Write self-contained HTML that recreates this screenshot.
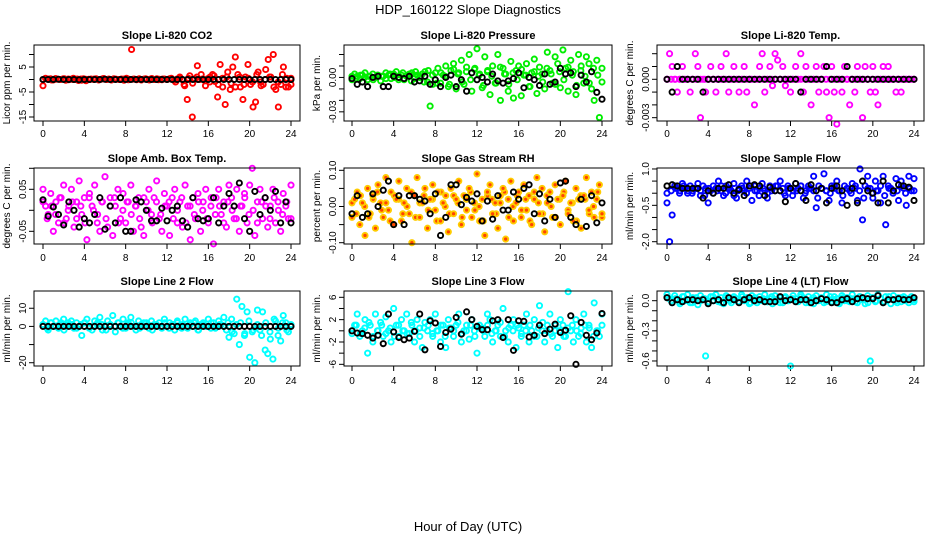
<!DOCTYPE html>
<html><head><meta charset="utf-8"><style>
html,body{margin:0;padding:0;background:#fff;}
svg{display:block;font-family:"Liberation Sans",sans-serif;}
</style></head><body>
<svg id="chart" width="936" height="540" xmlns="http://www.w3.org/2000/svg">
<text x="468" y="14" text-anchor="middle" font-size="13">HDP_160122  Slope Diagnostics</text>
<text x="468" y="531" text-anchor="middle" font-size="13">Hour of Day (UTC)</text>
</svg>
<script>
const xTicks=[0,4,8,12,16,20,24];
const co2Col=[-2.5,0.5,0.2,0.3,-0.2,0.4,0.1,0,0.3,-0.3,0.2,0.1,0.5,0,-0.4,0.2,0.3,-0.5,0.1,0.2,0,0.3,-0.2,0.1,0.4,0,0.2,-0.1,0.3,0.1,0,0.2,-0.3,0.5,0.1,12,0.2,-0.1,0.3,0,0.2,0.1,-0.2,0.4,0,0.3,0.1,-0.1,0.2,0,0.3,0.1,-0.2,0.2,0.4,0,-2.5,-8,1.5,-15,0.3,5.5,0,0.2,-0.5,0.3,1,2,-0.8,-7,6,-3,-10,3,-4,5,9,2,-3,-8,1,6,-2,-11,-9,3,-1,-2,4,8,1,10,-4,-11,-2,5,-3,-3,0.5];
const co2Band=[0,0.2,-0.2,0.1,0,0.3,-0.1,0,0.2,-0.3,0.1,0,0.2,-0.1,0.3,0,-0.2,0.1,0,0.2,-0.1,0.1,0,-0.2,0.3,0.1,0,-0.1,0.2,0,0.5,-1,1,-2,0.5,-1.5,1,2,-2.5,-1,1.5,-2,0.5,1,-1.5,-3,1,-2,0.5,-1,2,-2.5,0,1,-3,-1,2,0.5,-2];
const co2Blk=[0,0,0,0.1,0,0,0,-0.1,0,0,0,0,0.1,0,0,0,0,0,0,0,0,0,0,0,0,0,0,0,0,0,0,0,0,0,0,0,0,0,0,0,0,0,0,0,0,0,0,0,0];
const presCol=[-0.002,0.003,0.001,-0.001,0.002,0.004,-0.002,0.001,0.003,0,0.002,-0.003,0.001,0.004,0.002,-0.001,0.003,0.005,0,0.002,-0.002,0.001,0.003,0.004,-0.001,0.002,0,0.003,0.005,-0.004,-0.025,-0.006,0.004,0.008,-0.005,0.002,0.01,-0.008,0.006,0.012,-0.01,0.004,0.015,-0.006,0.009,0.02,-0.012,0.007,0.025,0.003,-0.009,0.018,0.005,-0.015,0.01,-0.005,0.02,-0.02,0.008,0.003,-0.012,0.014,-0.018,0.006,0.01,-0.016,0.002,0.012,-0.008,0.004,0.016,-0.014,0.009,0.003,-0.01,0.022,0.006,-0.005,0.018,0.012,-0.009,0.024,0.008,-0.012,0.015,0.005,-0.015,0.02,0.01,-0.005,0.018,0.012,-0.01,-0.02,0.015,-0.035,0.008];
const presBand=[0.001,-0.001,0.002,0,0.001,-0.002,0.002,0.001,-0.001,0.003,0,-0.002,0.004,0.002,-0.003,0.005,0.001,-0.004,0.006,0.002,-0.005,0.004,0.001,-0.006,0.007,0.003,-0.004,0.005,-0.002,0.008,0.002,-0.007,0.006,0.001,-0.005,0.009,0.003,-0.006,0.004,-0.002,0.007,0.002,-0.008,0.005,0.001,-0.004,0.008,0.003,-0.006,0.005,-0.002,0.009,0.002,-0.007,0.006,0.001,-0.005,0.008,0.002,-0.004];
const presBlk=[-0.001,-0.006,-0.004,-0.008,0,0.001,-0.008,-0.008,0.001,0,-0.001,0.001,-0.004,-0.003,0.001,-0.006,-0.002,-0.008,0,0.002,-0.008,-0.002,-0.012,0.004,-0.002,0,-0.004,0.003,-0.003,-0.005,-0.003,-0.001,0.004,-0.009,0,-0.002,-0.007,0.003,-0.006,-0.004,0.008,0.003,0.004,-0.008,0.002,-0.004,0.005,-0.013,-0.019];
const tempCol=[0,0.002,0.001,0,-0.001,0,0.001,0,0,-0.001,0,0.002,0.001,-0.003,0,-0.001,0,0.001,0,-0.001,0,0.001,0,0.002,-0.001,0,0.001,0,-0.001,0,0.001,-0.001,0,0,-0.002,0,0.001,0.002,-0.001,0,0.001,-0.0005,0.002,0.0015,0,0.001,-0.0005,0,-0.001,0,0.001,0,0.002,-0.001,0.001,0,-0.002,0,0.001,-0.001,0,0.001,-0.001,-0.003,0.001,-0.001,-0.0035,0,-0.001,0.001,0,-0.002,0,-0.001,0.001,0,-0.003,0.001,0,-0.001,0.001,-0.001,-0.002,0,0.001,0,0.001,0,0,-0.001,0,-0.001,0,0,0,0,0];
const tempBand=[0,0,0,0,0,0,0,0,0,0,0,0,0,0,0,0,0,0,0,0,0,0,0,0,0,0,0,0,0,0,0,0,0,0,0,0,0,0,0,0,0,0,0,0,0,0,0,0,0,0,0,0,0,0,0,0,0,0,0,0];
const tempBlk=[0,-0.001,0.001,0,0,0,0,-0.001,0,0,0,0,0,0,0,0,0,0,0,0,0,0,0,0,0,0,-0.001,0,0,0,0,0.001,0,0,0,0.001,0,0,0,0,0,0,0,0,0,0,0,0,0];
const ambCol=[0.05,0.01,-0.01,0.04,-0.05,0.02,-0.03,0.03,0.06,-0.02,0.01,0.05,-0.04,0.02,0.07,-0.01,0.03,-0.07,0.04,0.01,0.06,-0.03,-0.05,0.02,0.08,-0.04,0.03,-0.06,0.01,0.05,-0.02,0.04,-0.03,0.02,0.06,-0.05,0.01,0.03,-0.04,-0.06,0.02,0.05,-0.01,0.03,0.07,-0.02,-0.05,0.04,0.01,-0.06,0.03,0.05,-0.03,0.02,-0.04,0.06,0.01,-0.07,0.03,-0.02,0.04,-0.05,0.02,0.05,-0.03,0.01,-0.08,0.03,0.05,-0.01,0.02,-0.04,0.06,0.03,-0.02,0.05,-0.05,0.01,0.04,-0.03,0.06,0.1,-0.06,0.02,0.05,-0.02,0.03,-0.04,0.01,0.05,-0.03,0.02,-0.05,0.04,0.01,-0.02,0.06];
const ambBand=[0.02,-0.02,0.01,-0.01,0.03,-0.03,0,0.02,-0.02,0.01,-0.03,0.03,0,-0.01,0.02,-0.02,0.01,0.03,-0.03,0,0.02,-0.01,0.01,-0.02,0.03,0,-0.03,0.02,-0.01,0.01,0.02,-0.02,0,0.03,-0.03,0.01,-0.01,0.02,0,-0.02,0.03,-0.01,0.01,-0.03,0.02,0,-0.02,0.01,0.03,-0.01,0,-0.03,0.02,0.01,-0.02,0.03,0,-0.01,0.02,-0.02];
const ambBlk=[0.025,-0.014,0.008,-0.01,-0.035,0.02,0,-0.04,-0.02,-0.03,-0.01,0.03,-0.045,0.01,-0.03,0.03,-0.05,-0.05,0.025,0.02,0,-0.025,-0.025,0.005,-0.025,0,0.01,-0.025,-0.04,0.03,-0.02,-0.025,-0.02,0.03,-0.03,0.01,0.04,0.01,0.065,-0.02,-0.05,0.045,-0.01,0.03,0,0.045,-0.03,0.02,-0.03];
const rhCol=[-0.03,0.02,0.04,-0.05,0.01,-0.08,0.05,-0.02,0.03,-0.06,0.06,0.01,-0.03,0.08,-0.01,0.04,-0.05,0.02,0.07,-0.04,0.01,0.05,-0.02,-0.1,0.03,0.08,-0.03,0.01,0.05,-0.06,0.02,0.06,-0.01,0.04,-0.04,0.01,0.03,-0.07,0.05,-0.02,0.02,0.07,-0.05,0.03,-0.01,0.05,-0.03,0.01,0.09,-0.04,0.02,-0.08,0.04,0.06,-0.02,0.01,-0.06,0.03,0.05,-0.09,0.02,0.07,-0.04,0.01,0.04,-0.03,0.06,-0.01,0.03,-0.05,0.02,0.08,-0.02,0.05,-0.07,0.01,0.04,-0.03,0.06,0.02,-0.05,0.03,0.07,-0.02,0.01,-0.04,0.05,0.02,-0.06,0.03,0.08,-0.01,0.04,-0.03,0.02,0.06,-0.02];
const rhBand=[0.01,-0.02,0.03,0,-0.03,0.02,0.04,-0.01,0.01,-0.04,0.03,0.02,-0.02,0,0.04,-0.03,0.01,0.03,-0.01,0.02,-0.04,0.04,0,-0.02,0.03,0.01,-0.03,0.02,0.04,-0.01,0,-0.04,0.03,0.02,-0.02,0.01,0.04,-0.03,0,0.03,-0.01,0.02,-0.04,0.04,0.01,-0.02,0.03,0,-0.03,0.02,0.04,-0.01,0.01,-0.04,0.03,0.02,-0.02,0,0.04,-0.03];
const rhBlk=[-0.02,0.03,-0.03,-0.02,0.035,0,0.045,0.07,-0.05,0.03,-0.05,0.03,0.03,0.02,0.015,-0.02,0.035,-0.08,-0.03,0.06,0.06,0.005,0.025,0.015,0.035,-0.04,0.015,-0.035,0.03,-0.01,-0.01,0.04,0.02,0.05,0.06,-0.02,0.035,-0.04,0.02,-0.03,0.065,0.07,-0.03,-0.05,0.02,-0.055,0.03,-0.045,0.01];
const flowCol=[-0.4,-2.0,-0.9,0.3,0.2,0.1,0.4,0.2,0,0.3,0.1,0.2,0.4,-0.1,0.3,0.2,-0.4,0.1,0.3,0.2,0.5,0.1,-0.1,0.3,0.2,0.1,0.4,-0.2,0.2,0.3,0.1,0.5,0.2,-0.3,0.3,0.1,0.2,0.4,0.1,-0.2,0.3,0.2,0.1,0.3,0.5,0.2,-0.1,0.3,0.2,0.1,0.4,0.2,0.3,-0.2,0.1,0.3,0.2,0.7,-0.6,0.3,0.2,0.8,0.1,-0.3,0.3,0.2,0.5,0.1,-0.4,0.3,0.2,0.1,0.4,0.2,-0.3,1.0,-1.1,0.3,0.7,0.2,-0.2,0.5,0.1,-0.4,0.7,-1.3,0.3,0.2,0.1,0.6,-0.3,0.5,0.2,-0.5,0.7,0.1,0.6];
const flowBand=[0,0.1,0.2,0,0.3,0.1,0,0.2,0.1,-0.1,0.2,0,0.1,0.3,0,0.2,-0.1,0.1,0.2,0,0.3,0.1,-0.1,0.2,0,0.1,0.3,0.1,0,0.2,-0.1,0.1,0.3,0,0.2,0.1,-0.2,0.2,0.1,0,0.3,0.1,-0.1,0.2,0,0.3,0.1,-0.2,0.2,0,0.1,0.3,-0.1,0.2,0,0.1,0.3,0,0.2,0.1];
const flowBlk=[0.3,0.35,0.3,0.2,0.2,0.2,0.2,-0.2,0.1,0,0.2,0.2,0.35,0,0.15,-0.1,0.3,0.35,0.3,-0.1,0.25,0.1,0.1,-0.35,0.2,0.4,0.1,-0.3,0.35,0.1,0.2,-0.4,0.2,0.3,0.1,-0.5,0.2,-0.4,0.5,0.1,0,-0.4,0.5,-0.4,0.1,0.35,0.3,0.25,-0.3];
const l2Col=[1,3,-2,2,0,3,-1,2,4,0,1,3,-1,2,0,-5,2,4,0,-2,3,1,5,-2,0,3,1,6,-3,2,0,4,-1,2,5,0,-2,3,1,0,2,-1,3,1,0,2,-1,4,0,2,1,-2,3,0,1,4,-1,2,0,3,-2,1,2,0,4,-1,2,0,3,1,5,-2,-6,4,-4,15,-10,11,-5,8,-17,-3,-20,9,-2,8,-13,-15,-7,-18,3,-5,-8,6,2,-3,0];
const l2Band=[1,-1,2,0,1,-2,2,1,-1,1,2,-1,0,2,1,-2,1,0,2,-1,1,2,0,-1,2,1,-2,1,0,2,-1,1,2,-1,0,1,2,-2,1,0,2,-1,1,0,2,-3,1,2,-4,3,-2,1,-5,2,-3,4,-1,2,-2,1];
const l2Blk=[0,0,0,0,0,0,0,0,0,0,0,0,0,0,0,0,0,0,0,0,0,0,0,0,0,0,0,0,0,0,0,0,0,0,0,0,0,0,0,0,0,0,0,0,0,0,0,0,0];
const l3Col=[-0.5,1,3,-1,0,2,-4,1,-2,3,0,1.5,-1,2.5,0,-2,4,1,-1,2,0,3,-0.5,1,-2,2,0.5,-3,1.5,0,2,-1,3,0,-2,1,-3,2,0.5,-1,1,3,-2,0,1,-1.5,2,0,-4,1,0.5,-1,3,2,-2,0,1,-1,4,0,-2,1,2,-3,0.5,-1,1,3,-2,0,2,-1,4.5,0,-2,1,3,-1,0,-3,2,1,-1,7,0,-2,2,-1,0.5,3,-2,1,-3,5,0,-1,3];
const l3Band=[0,1,-0.5,0.5,1.5,-1,0,1,-0.5,0.5,-1,1,0,-0.5,1.5,0,-1,0.5,1,-0.5,0,1,-1,0.5,0,1.5,-0.5,0,1,-1,0.5,0,1,-0.5,0,1.5,-1,0.5,0,1,-0.5,0,1,-1,0.5,1.5,0,-0.5,1,0,-1,0.5,1,0,-0.5,1,0.5,-1,0,1];
const l3Blk=[0,-0.4,-0.5,-0.8,-1.3,-0.8,-2.3,3,-0.2,-1.2,-1.6,-1.3,-0.1,3,-3.4,1.8,1.4,-2.8,-0.3,0.3,2.4,-0.6,3.4,2,0.8,0.2,0.2,1.8,2,-1.2,2,-3.5,1.8,1.7,-1.1,-0.8,1,-0.5,0.3,1.2,-0.3,0.1,2.7,-6,1.5,-0.8,-1.6,-0.4,3.1];
const l4Col=[0.06,0.02,-0.02,0.05,0.01,-0.03,0.04,0,0.06,-0.02,0.03,0.01,-0.04,0.05,0.02,-0.55,-0.02,0.04,0,0.06,-0.01,0.03,-0.03,0.05,0.01,-0.02,0.04,0.02,-0.01,0.06,0,0.03,-0.03,0.05,0.01,-0.02,0.04,0,0.06,-0.01,0.02,-0.03,0.05,0.01,0.03,-0.02,0.04,0,-0.65,0.05,0.02,-0.01,0.06,0.03,-0.02,0.04,0.01,-0.03,0.05,0,0.03,-0.02,0.06,0.01,-0.01,0.04,0.02,-0.03,0.05,0,0.03,-0.01,0.06,0.02,-0.02,0.04,0.01,-0.03,0.05,-0.6,0.03,-0.01,0.06,0.02,-0.02,0.04,0.01,-0.03,0.05,0,0.03,-0.01,0.04,0.02,-0.02,0.04,0.01];
const l4Band=[0.03,0,0.02,-0.01,0.04,0.01,-0.02,0.03,0,0.02,-0.01,0.04,0.01,-0.02,0.03,0,0.02,-0.01,0.04,0.01,-0.02,0.03,0,0.02,-0.01,0.04,0.01,-0.02,0.03,0,0.02,-0.01,0.04,0.01,-0.02,0.03,0,0.02,-0.01,0.04,0.01,-0.02,0.03,0,0.02,-0.01,0.04,0.01,-0.02,0.03,0,0.02,-0.01,0.04,0.01,-0.02,0.03,0,0.02,-0.01];
const l4Blk=[0.03,-0.02,0.01,-0.01,0.01,0.01,0,0.01,-0.03,0,0.01,-0.02,0.03,0.01,-0.02,0.01,0.03,0,0.01,-0.01,-0.01,-0.01,0.04,0,0.01,-0.01,0.01,0.01,-0.02,0,0.02,0.01,-0.02,-0.02,0.01,0.02,-0.01,0.02,0.03,0.02,0.02,0.05,-0.02,0.01,0.01,0.02,0.01,0.01,0.03];

const svgNS="http://www.w3.org/2000/svg";
const svg=document.getElementById('chart');
const cols=[[34,300,43,291],[344,612,352,602],[657,924,667,914]];
const rows=[[45,121,137],[168,244,261],[291,366,384]];
const panels=[
 {name:'co2',title:'Slope Li-820 CO2',ylab:'Licor ppm per min.',col:co2Col,band:co2Band,blk:co2Blk,color:'#ff0000',r:0,c:0,ymax:13.8,ymin:-16.6,ticks:[10,5,0,-5,-10,-15],labels:[5,-5,-15]},
 {name:'pressure',title:'Slope Li-820 Pressure',ylab:'kPa per min.',col:presCol,band:presBand,blk:presBlk,color:'#00ee00',r:0,c:1,ymax:0.0283,ymin:-0.038,ticks:[0.02,0.01,0,-0.01,-0.02,-0.03],labels:[0,-0.03],fmt:2},
 {name:'temp',title:'Slope Li-820 Temp.',ylab:'degrees C per min.',col:tempCol,band:tempBand,blk:tempBlk,color:'#ff00ff',r:0,c:2,ymax:0.00268,ymin:-0.00326,ticks:[0.002,0.001,0,-0.001,-0.002,-0.003],labels:[0,-0.003],fmt:3},
 {name:'amb-temp',title:'Slope Amb. Box Temp.',ylab:'degrees C per min.',col:ambCol,band:ambBand,blk:ambBlk,color:'#ff00ff',r:1,c:0,ymax:0.1007,ymin:-0.0802,ticks:[0.1,0.05,0,-0.05],labels:[0.05,-0.05],fmt:2},
 {name:'rh',title:'Slope Gas Stream RH',ylab:'percent per min.',col:rhCol,band:rhBand,blk:rhBlk,color:'#ffcc00',r:1,c:1,ymax:0.1064,ymin:-0.1036,ticks:[0.1,0.05,0,-0.05,-0.1],labels:[0.1,0,-0.1],fmt:2},
 {name:'sample-flow',title:'Slope Sample Flow',ylab:'ml/min per min.',col:flowCol,band:flowBand,blk:flowBlk,color:'#0000ff',r:1,c:2,ymax:1.04,ymin:-2.095,ticks:[1,0.5,0,-0.5,-1,-1.5,-2],labels:[1,-0.5,-2],fmt:1},
 {name:'line2-flow',title:'Slope Line 2 Flow',ylab:'ml/min per min.',col:l2Col,band:l2Band,blk:l2Blk,color:'#00ffff',r:2,c:0,ymax:19.5,ymin:-21.8,ticks:[10,0,-10,-20],labels:[10,0,-20]},
 {name:'line3-flow',title:'Slope Line 3 Flow',ylab:'ml/min per min.',col:l3Col,band:l3Band,blk:l3Blk,color:'#00ffff',r:2,c:1,ymax:7.13,ymin:-6.3,ticks:[6,4,2,0,-2,-4,-6],labels:[6,2,-2,-6]},
 {name:'line4-flow',title:'Slope Line 4 (LT) Flow',ylab:'ml/min per min.',col:l4Col,band:l4Band,blk:l4Blk,color:'#00ffff',r:2,c:2,ymax:0.0965,ymin:-0.65,ticks:[0,-0.1,-0.2,-0.3,-0.4,-0.5,-0.6],labels:[0,-0.3,-0.6],fmt:1}
];
function mk(tag,attrs,parent){const e=document.createElementNS(svgNS,tag);for(const k in attrs)e.setAttribute(k,attrs[k]);(parent||svg).appendChild(e);return e;}
panels.forEach(p=>{
 const [L,R,X0,X24]=cols[p.c];const [T,B,LY]=rows[p.r];
 const g=mk('g',{});
 
 
 const xs=h=>X0+(X24-X0)*h/24;
 const ys=v=>T+(p.ymax-v)/(p.ymax-p.ymin)*(B-T);
 const t=mk('text',{x:(L+R)/2,y:T-6,'text-anchor':'middle','font-size':11,'font-weight':'bold'},g);t.textContent=p.title;
 
 
 const yl=mk('text',{x:0,y:0,'text-anchor':'middle','font-size':10,transform:`translate(${L-24},${(T+B)/2}) rotate(-90)`},g);yl.textContent=p.ylab;
 
 
 p.ticks.forEach(v=>{mk('line',{x1:L-5,x2:L,y1:ys(v),y2:ys(v),stroke:'#000'},g);});
 p.labels.forEach(v=>{const y=ys(v);const lb=mk('text',{x:0,y:0,'text-anchor':'middle','font-size':10,transform:`translate(${L-8},${y}) rotate(-90)`},g);lb.textContent=p.fmt?v.toFixed(p.fmt):String(v);
  
  });
 mk('line',{x1:L,x2:L,y1:ys(p.ticks[0]),y2:ys(p.ticks[p.ticks.length-1]),stroke:'#000'},g);
 mk('line',{x1:xs(0),x2:xs(24),y1:B,y2:B,stroke:'#000'},g);
 xTicks.forEach(h=>{mk('line',{x1:xs(h),x2:xs(h),y1:B,y2:B+5,stroke:'#000'},g);const lb=mk('text',{x:xs(h),y:LY,'text-anchor':'middle','font-size':10},g);lb.textContent=h;
  
  });
 const fill=p.name==='rh'?'#ff4400':'none';
 [p.band,p.col].forEach(arr=>{
  const n=arr.length;
  arr.forEach((v,i)=>{const c=mk('circle',{cx:xs(i*24/(n-1)),cy:ys(v),r:2.6,fill:fill,stroke:p.color,'stroke-width':1.9},g);
   
   });
 });
 const m=p.blk.length;
 p.blk.forEach((v,i)=>{const c=mk('circle',{cx:xs(i*24/(m-1)),cy:ys(v),r:2.6,fill:'none',stroke:'#000','stroke-width':1.9},g);
  
  });
 const box=mk('rect',{x:L,y:T,width:R-L,height:B-T,fill:'none',stroke:'#000'},g);
 
 
});
</script>
</body></html>
